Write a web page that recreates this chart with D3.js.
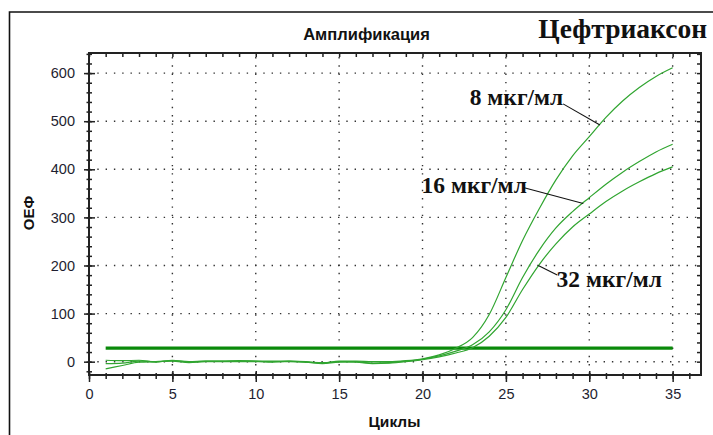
<!DOCTYPE html>
<html><head><meta charset="utf-8">
<script src="https://cdn.jsdelivr.net/npm/d3@7"></script>
<style>body{margin:0;background:#fff}svg{display:block}</style>
</head><body>
<svg id="c" width="713" height="435"></svg>
<script>
// ---- data ----
const cycles = d3.range(1, 36);
const s8  = [3,2,3,-1,3,-1,1,1,1,1,1,1,-1,-2,0,1,0,0,2,6,14,28,50,98,175,252,318,378,428,468,508,542,570,593,611];
const s16 = [-4,-3,1,0,2,0,1,1,2,1,-1,1,0,-3,1,0,-3,-2,1,5,12,22,35,62,108,175,232,278,312,341,369,394,416,436,452];
const s32 = [-15,-8,-1,0,1,-2,0,0,0,0,0,0,-1,-4,-1,-1,-4,-3,0,4,10,18,29,53,92,150,202,245,280,307,333,355,374,391,405];
const threshold = 28;
const xTicks = [0,5,10,15,20,25,30,35];
const yTicks = [0,100,200,300,400,500,600];
const labels = ["8 мкг/мл","16 мкг/мл","32 мкг/мл"];
// annotation anchors in data units: text position, pointer start, pointer end
const labelPos   = [[22.83,533],[19.94,351],[28.04,155]];
const pointerFrom= [[28.43,536],[26.04,362],[26.94,200]];
const pointerTo  = [[30.64,492],[29.64,329],[28.08,180]];
const title = "Амплификация";
const bigTitle = "Цефтриаксон";
const xLabel = "Циклы", yLabel = "ОЕФ";

// ---- layout ----
const svg = d3.select("#c");
const L=89, R=701, T=53, B=375;
const x = d3.scaleLinear().domain([0,36.7]).range([L,R]);
const y = d3.scaleLinear().domain([-27.7,641.8]).range([B,T]);
const sans = "'Liberation Sans', Arial, sans-serif";
const serif = "'Liberation Serif', 'Times New Roman', serif";

// outer frame
svg.append("path").attr("d","M9.5,435 L9.5,12 L713,12").attr("fill","none").attr("stroke","#111").attr("stroke-width",1.6);

// grid
const grid = svg.append("g").attr("stroke","#333").attr("stroke-width",1.4).attr("stroke-dasharray","1.4 6.9");
grid.selectAll(".gx").data(xTicks.filter(d=>d>0)).join("line")
  .attr("x1",d=>x(d)).attr("x2",d=>x(d)).attr("y1",T+4).attr("y2",B);
grid.selectAll(".gy").data(yTicks).join("line")
  .attr("x1",L).attr("x2",R).attr("y1",d=>y(d)).attr("y2",d=>y(d));

// axes
const axCol = "#222";
function styleAxis(g){ g.select(".domain").remove(); g.selectAll("line").attr("stroke",axCol).attr("stroke-width",1.5);
  g.selectAll("text").attr("fill","#1e1e30").style("font-family",sans).style("font-size","14.5px"); }

const minorX = d3.range(0,37);
const gxMin = svg.append("g").attr("transform",`translate(0,${B})`).call(d3.axisBottom(x).tickValues(minorX).tickFormat("").tickSize(0));
gxMin.selectAll(".tick line").attr("y1",-2).attr("y2",4); styleAxis(gxMin);
const gx = svg.append("g").attr("transform",`translate(0,${B})`).call(d3.axisBottom(x).tickValues(xTicks).tickSize(0).tickPadding(14));
gx.selectAll(".tick line").attr("y1",-4).attr("y2",7); styleAxis(gx);

const minorY = d3.range(-20,641,20);
const gyMin = svg.append("g").attr("transform",`translate(${L},0)`).call(d3.axisLeft(y).tickValues(minorY).tickFormat("").tickSize(0));
gyMin.selectAll(".tick line").attr("x1",-2.5).attr("x2",3); styleAxis(gyMin);
const gy = svg.append("g").attr("transform",`translate(${L},0)`).call(d3.axisLeft(y).tickValues(yTicks).tickSize(0).tickPadding(14));
gy.selectAll(".tick line").attr("x1",-5).attr("x2",6); styleAxis(gy);

const gt = svg.append("g").attr("transform",`translate(0,${T})`).call(d3.axisTop(x).tickValues(minorX).tickFormat("").tickSize(0));
gt.selectAll(".tick line").attr("y1",0).attr("y2",4); styleAxis(gt);
const gr = svg.append("g").attr("transform",`translate(${R},0)`).call(d3.axisRight(y).tickValues(minorY.filter(d=>d>-20)).tickFormat("").tickSize(0));
gr.selectAll(".tick line").attr("x1",0).attr("x2",-4); styleAxis(gr);

// plot box
svg.append("rect").attr("x",L).attr("y",T).attr("width",R-L).attr("height",B-T)
  .attr("fill","none").attr("stroke",axCol).attr("stroke-width",2);

// threshold
svg.append("line").attr("x1",x(1)).attr("x2",x(35)).attr("y1",y(threshold)).attr("y2",y(threshold))
  .attr("stroke","#0a8a0a").attr("stroke-width",3.2);

// curves
const line = d3.line().x((d,i)=>x(cycles[i])).y(d=>y(d)).curve(d3.curveMonotoneX);
[s8,s16,s32].forEach(s=>{
  svg.append("path").datum(s).attr("d",line).attr("fill","none")
    .attr("stroke","#30a530").attr("stroke-width",1.2);
});

// pointers + labels
labels.forEach((t,i)=>{
  svg.append("line").attr("x1",x(pointerFrom[i][0])).attr("y1",y(pointerFrom[i][1]))
    .attr("x2",x(pointerTo[i][0])).attr("y2",y(pointerTo[i][1])).attr("stroke","#111").attr("stroke-width",1.1);
  svg.append("text").attr("x",x(labelPos[i][0])).attr("y",y(labelPos[i][1])).text(t)
    .style("font-family",serif).style("font-weight","bold").style("font-size","23.5px").attr("fill","#111");
});

// titles
svg.append("text").attr("x",366.5).attr("y",39.5).attr("text-anchor","middle").text(title)
  .style("font-family",sans).style("font-weight","bold").style("font-size","16.5px").attr("fill","#111");
svg.append("text").attr("x",707).attr("y",38).attr("text-anchor","end").text(bigTitle)
  .style("font-family",serif).style("font-weight","bold").style("font-size","27.5px").attr("fill","#111");
svg.append("text").attr("x",394.5).attr("y",426.5).attr("text-anchor","middle").text(xLabel)
  .style("font-family",sans).style("font-weight","bold").style("font-size","15.5px").attr("fill","#111");
svg.append("text").attr("transform","translate(33.5,213) rotate(-90)").attr("text-anchor","middle").text(yLabel)
  .style("font-family",sans).style("font-weight","bold").style("font-size","15px").attr("fill","#111");
</script>
</body></html>
